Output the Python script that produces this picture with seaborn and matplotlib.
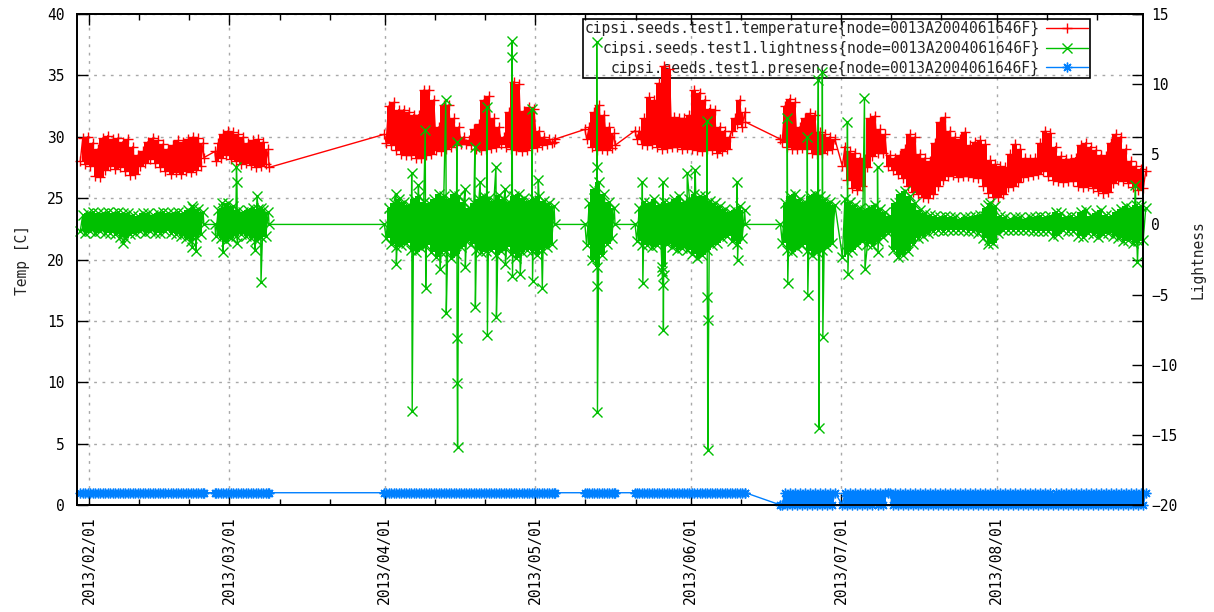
import numpy as np
import pandas as pd
import matplotlib
matplotlib.use("Agg")
import matplotlib.pyplot as plt
import matplotlib.dates as mdates
import seaborn as sns

sns.set_theme(style="white")
plt.rcParams["font.family"] = ["DejaVu Sans Mono", "DejaVu Sans"]
plt.rcParams["axes.unicode_minus"] = True

START = pd.Timestamp("2013-02-01")

# ---------------------------------------------------------------- data
# days (offset from 2013-02-01) that carry samples
day_offsets = (list(range(-2, 23)) + list(range(25, 36)) + list(range(59, 93))
               + list(range(99, 105)) + list(range(109, 131))
               + list(range(138, 149)) + list(range(150, 211)))

# temperature: daily low / high  [C]
temp_lo = [
    28.0, 27.8, 27.6, 26.8, 26.7, 27.3, 27.6, 27.4, 27.5, 27.2, 26.9, 27.0,
    27.6, 27.9, 28.2, 27.9, 27.5, 27.2, 27.0, 27.1, 27.0, 27.2, 27.1, 27.3, 27.6,
    28.0, 28.3, 28.5, 28.2, 28.0, 27.8, 27.9, 27.7, 27.5, 27.6, 27.8,
    29.5, 29.3, 28.9, 28.6, 28.5, 28.5, 28.3, 28.3, 28.5, 28.6, 28.9, 28.8, 29.0, 29.2, 29.3, 29.4, 29.4,
    29.3, 29.0, 28.9, 29.0, 29.1, 29.2, 29.4,
    29.2, 29.0, 28.9, 28.8, 28.9, 29.1, 29.2, 29.3, 29.4, 29.5,
    29.8, 29.2, 28.9, 29.0, 28.9, 29.1,
    29.8, 29.4, 29.3, 29.4, 29.2, 29.0, 29.1, 29.2, 29.2, 29.0, 29.1, 29.0, 28.9, 28.8, 29.0, 28.9, 28.7, 28.8, 29.0,
    30.5, 31.0, 30.8,
    29.6, 29.2, 29.0, 29.0, 29.1, 29.0, 28.7, 28.6, 28.7, 28.9, 29.0,
    27.6, 26.5, 25.8, 25.7, 26.0, 27.5, 28.4, 28.7, 28.7,
    27.6,
    27.3, 27.0, 26.6, 26.0, 25.5, 25.3, 25.1, 25.0, 25.3, 26.0,
    26.5, 26.8, 26.9, 26.7, 26.8, 26.8, 26.7, 26.6, 26.0, 25.4,
    25.1, 25.1, 25.3, 25.9, 26.0, 26.3, 26.7, 26.8, 26.9, 27.0,
    27.2, 26.8, 26.5, 26.4, 26.3, 26.4, 26.4, 26.0, 25.9, 26.0,
    25.8, 25.6, 25.4, 25.5, 26.2, 26.5, 26.4, 26.2, 25.9, 25.7, 25.8,
]
temp_hi = [
    29.9, 30.0, 29.5, 29.0, 29.9, 30.1, 29.8, 29.9, 29.6, 29.8, 29.2, 28.5,
    28.8, 29.6, 29.9, 29.7, 29.4, 29.0, 29.3, 29.7, 29.6, 29.8, 30.0, 29.9, 29.5,
    29.5, 30.2, 30.5, 30.4, 30.2, 30.0, 29.5, 29.7, 29.8, 29.6, 29.0,
    32.5, 32.8, 32.2, 32.2, 32.0, 31.8, 31.8, 33.8, 33.8, 33.0, 30.8, 32.6, 32.6, 31.5, 30.8, 30.0, 29.7,
    30.6, 31.0, 33.0, 33.3, 31.5, 30.8, 30.0,
    32.0, 34.5, 34.3, 32.1, 32.4, 32.3, 30.5, 30.0, 29.8, 29.6,
    30.8, 32.0, 32.6, 31.8, 30.8, 30.3,
    30.5, 31.5, 33.2, 33.0, 34.4, 35.8, 35.5, 31.6, 31.5, 31.5, 31.8, 33.8, 33.6, 33.0, 32.3, 32.2, 30.8, 30.5, 30.0,
    31.5, 33.0, 32.0,
    32.5, 33.1, 32.8, 30.8, 31.5, 31.9, 31.8, 30.4, 30.2, 30.0, 29.8,
    29.2, 28.8, 28.7, 28.3, 28.2, 31.5, 31.7, 30.6, 30.2,
    28.5,
    28.3, 28.5, 29.0, 30.2, 30.0, 28.6, 28.3, 28.0, 29.5, 31.2,
    31.6, 30.5, 30.0, 29.8, 30.4, 29.3, 29.6, 29.7, 29.4, 28.1,
    27.8, 27.6, 27.5, 28.6, 29.4, 29.0, 28.3, 28.2, 28.3, 29.5,
    30.5, 30.3, 29.2, 28.4, 28.2, 28.2, 28.3, 29.3, 29.5, 29.2,
    28.9, 28.5, 28.4, 29.5, 30.2, 30.0, 29.0, 28.0, 27.6, 27.4, 27.2,
]
temp_link_day = [22.9, 25.1, 35.9, 58.9, 92.9, 98.9, 104.9, 108.9, 130.9, 137.9]
temp_link_val = [28.3, 28.8, 27.5, 30.2, 29.8, 30.6, 29.3, 30.5, 31.2, 29.8]

# lightness: daily band low / high
light_lo = [
    -0.5, -0.6, -0.5, -0.6, -0.5, -0.6, -0.6, -0.7, -0.9, -1.0, -0.7, -0.6,
    -0.5, -0.6, -0.5, -0.6, -0.6, -0.5, -0.6, -0.7, -0.8, -1.0, -1.2, -0.9, -0.7,
    -0.8, -1.0, -1.2, -1.0, -0.8, -0.7, -0.8, -1.0, -1.1, -0.9, -0.8,
    -1.0, -1.4, -1.6, -1.5, -1.3, -1.8, -2.0, -1.7, -1.5, -2.0, -2.3, -2.0, -1.9, -2.4, -2.1, -1.6, -1.2,
    -1.4, -1.8, -2.0, -1.9, -1.8, -2.2, -1.9,
    -1.6, -2.1, -2.4, -2.0, -1.8, -1.9, -2.2, -1.8, -1.6, -1.4,
    -1.5, -2.5, -3.0, -2.2, -1.4, -1.0,
    -1.2, -1.5, -1.5, -1.6, -1.5, -3.0, -1.4, -1.6, -1.8, -1.7, -1.8, -2.1, -2.4, -2.2, -1.8, -1.5, -1.3, -1.0, -0.8,
    -1.2, -1.4, -1.0,
    -1.3, -1.8, -2.0, -1.7, -1.5, -1.9, -2.2, -2.0, -1.8, -1.6, -1.3,
    -2.3, -2.0, -1.8, -1.5, -1.2, -1.4, -1.5, -1.2, -0.9,
    -0.6,
    -1.8, -2.3, -2.2, -1.9, -1.4, -1.0, -0.8, -0.6, -0.5,
    -0.4, -0.5, -0.4, -0.4, -0.4, -0.4, -0.5, -0.5, -0.6, -1.0, -1.4,
    -1.3, -0.6, -0.4, -0.4, -0.4, -0.4, -0.4, -0.4, -0.5, -0.5,
    -0.5, -0.5, -0.8, -0.7, -0.4, -0.5, -0.5, -0.8, -0.9, -0.6,
    -0.7, -0.9, -0.7, -0.6, -0.8, -1.0, -1.2, -1.1, -1.3, -1.2, -1.1,
]
light_hi = [
    0.7, 0.8, 0.9, 0.8, 0.8, 0.9, 0.8, 0.9, 0.8, 0.8, 0.7, 0.6,
    0.8, 0.8, 0.7, 0.8, 0.9, 0.8, 0.8, 0.9, 0.8, 1.0, 1.2, 1.1, 0.9,
    1.0, 1.2, 1.5, 1.3, 1.0, 0.9, 1.0, 1.2, 1.1, 1.0, 0.9,
    1.2, 1.5, 1.8, 1.6, 1.4, 1.8, 2.0, 1.6, 1.5, 1.8, 2.2, 2.0, 1.8, 2.2, 2.0, 1.6, 1.2,
    1.5, 1.8, 2.0, 1.9, 1.7, 2.1, 1.8,
    1.6, 2.0, 2.2, 1.9, 1.7, 1.8, 2.0, 1.7, 1.5, 1.3,
    1.5, 2.5, 3.0, 2.2, 1.6, 1.2,
    1.2, 1.6, 1.5, 1.8, 1.4, 1.6, 1.5, 1.8, 2.0, 1.6, 1.8, 2.2, 2.0, 2.0, 1.7, 1.5, 1.3, 1.1, 0.9,
    1.0, 1.3, 1.0,
    1.5, 2.0, 2.2, 1.8, 1.6, 2.0, 2.2, 2.0, 1.8, 1.6, 1.4,
    1.8, 1.6, 1.4, 1.2, 1.0, 1.2, 1.4, 1.1, 0.9,
    0.6,
    1.5, 2.2, 2.4, 2.0, 1.5, 1.0, 0.8, 0.7, 0.6,
    0.5, 0.6, 0.5, 0.5, 0.4, 0.5, 0.5, 0.6, 0.7, 1.2, 1.5,
    1.3, 0.6, 0.5, 0.4, 0.5, 0.5, 0.4, 0.5, 0.5, 0.6,
    0.5, 0.6, 0.9, 0.8, 0.5, 0.6, 0.5, 0.9, 1.0, 0.6,
    0.8, 1.0, 0.7, 0.6, 0.9, 1.1, 1.3, 1.2, 1.4, 1.3, 1.2,
]
light_link_day = [22.9, 25.1, 35.9, 58.9, 92.9, 98.9, 104.9, 108.9, 130.9, 137.9]
light_link_val = [0.0, 0.0, 0.0, 0.0, 0.0, 0.0, 0.0, 0.0, 0.0, 0.0]
# isolated lightness excursions (day offset, value)
spike_day = [
    6.8, 20.5, 20.6, 21.2, 21.3, 26.6, 26.7, 27.7, 29.4, 29.5, 29.6, 33.1, 33.5, 34.2, 34.3,
    61.2, 61.3, 64.35, 64.45, 65.7, 67.05, 67.15, 70.0, 71.15, 71.25,
    73.35, 73.4, 73.45, 73.5, 75.0, 75.05, 76.95, 77.05, 78.0, 79.35, 79.45,
    81.15, 81.25, 83.0, 83.05, 84.35, 84.4, 84.45, 86.0, 88.35, 88.45, 89.6, 90.4,
    101.25, 101.3, 101.35, 101.4, 110.35, 110.45, 114.3, 114.4, 114.45, 114.55, 114.6,
    119.3, 120.9, 123.25, 123.3, 123.35, 123.4, 129.25, 129.35,
    139.25, 139.35, 143.25, 143.35, 145.45, 145.55, 146.25, 146.35,
    151.25, 151.35, 154.65, 154.75, 157.25, 157.35, 179.35, 179.45, 208.7, 209.1,
]
spike_val = [
    -1.3, 1.3, -1.6, 0.9, -1.9, 1.5, -2.0, 1.0, 4.1, 3.0, -1.3, -1.8, 2.0, 1.2, -4.1,
    2.2, -2.8, 3.7, -13.3, 2.8, 6.7, -4.5, -3.2, 8.9, -6.3,
    5.9, -8.1, -11.3, -15.9, 2.5, -3.0, 5.5, -5.9, 3.0, 8.4, -7.9,
    4.1, -6.6, 2.5, -2.8, 13.1, 11.9, -3.7, -3.5, 8.2, -4.0, 3.2, -4.5,
    13.0, 4.1, -4.4, -13.4, 3.0, -4.2, -3.3, -4.3, 3.0, -7.5, -3.6,
    3.7, 3.9, 7.4, -5.2, -6.8, -16.1, 3.0, -2.5,
    7.6, -4.2, 6.2, -5.0, 10.3, -14.5, 10.9, -8.0,
    7.3, -3.5, 9.0, -3.2, 4.1, -2.0, 1.4, -1.1, 2.8, -2.7,
]

# presence: daily low / high (0 / 1)
pres_lo = [
    1, 1, 1, 1, 1, 1, 1, 1, 1, 1, 1, 1, 1, 1, 1, 1, 1, 1, 1, 1, 1, 1, 1, 1, 1,
    1, 1, 1, 1, 1, 1, 1, 1, 1, 1, 1,
    1, 1, 1, 1, 1, 1, 1, 1, 1, 1, 1, 1, 1, 1, 1, 1, 1, 1, 1, 1, 1, 1, 1, 1, 1, 1, 1, 1, 1, 1, 1, 1, 1, 1,
    1, 1, 1, 1, 1, 1,
    1, 1, 1, 1, 1, 1, 1, 1, 1, 1, 1, 1, 1, 1, 1, 1, 1, 1, 1, 1, 1, 1,
    0, 0, 0, 0, 0, 0, 0, 0, 0, 0, 0,
    0, 0, 0, 0, 0, 0, 0, 0, 0,
    1,
    0, 0, 0, 0, 0, 0, 0, 0, 0, 0, 0, 0, 0, 0, 0, 0, 0, 0, 0, 0, 0, 0, 0, 0, 0,
    0, 0, 0, 0, 0, 0, 0, 0, 0, 0, 0, 0, 0, 0, 0, 0, 0, 0, 0, 0, 0, 0, 0, 0, 0, 0,
]
pres_hi = [
    1, 1, 1, 1, 1, 1, 1, 1, 1, 1, 1, 1, 1, 1, 1, 1, 1, 1, 1, 1, 1, 1, 1, 1, 1,
    1, 1, 1, 1, 1, 1, 1, 1, 1, 1, 1,
    1, 1, 1, 1, 1, 1, 1, 1, 1, 1, 1, 1, 1, 1, 1, 1, 1, 1, 1, 1, 1, 1, 1, 1, 1, 1, 1, 1, 1, 1, 1, 1, 1, 1,
    1, 1, 1, 1, 1, 1,
    1, 1, 1, 1, 1, 1, 1, 1, 1, 1, 1, 1, 1, 1, 1, 1, 1, 1, 1, 1, 1, 1,
    1, 1, 1, 1, 1, 1, 1, 1, 1, 1, 1,
    1, 1, 1, 1, 1, 1, 1, 1, 1,
    1,
    1, 1, 1, 1, 1, 1, 1, 1, 1, 1, 1, 1, 1, 1, 1, 1, 1, 1, 1, 1, 1, 1, 1, 1, 1,
    1, 1, 1, 1, 1, 1, 1, 1, 1, 1, 1, 1, 1, 1, 1, 1, 1, 1, 1, 1, 1, 1, 1, 1, 1, 1,
]
pres_link_day = [22.9, 25.1, 35.9, 58.9, 92.9, 98.9, 104.9, 108.9, 130.9, 137.9]
pres_link_val = [1, 1, 1, 1, 1, 1, 1, 1, 1, 0]

labels = [
    "cipsi.seeds.test1.temperature{node=0013A2004061646F}",
    "cipsi.seeds.test1.lightness{node=0013A2004061646F}",
    "cipsi.seeds.test1.presence{node=0013A2004061646F}",
]
RED, GREEN, BLUE = "#ff0000", "#00c000", "#0080ff"


# ---------------------------------------------------------------- helpers
def to_time(d):
    return START + pd.to_timedelta(np.asarray(d, float), unit="D")


def build_series(days, lo, hi, link_d, link_v, extra_d=(), extra_v=()):
    t = ([d + 0.25 for d in days] + [d + 0.75 for d in days]
         + list(link_d) + list(extra_d))
    v = list(lo) + list(hi) + list(link_v) + list(extra_v)
    t = np.asarray(t, float)
    v = np.asarray(v, float)
    order = np.argsort(t, kind="stable")
    return to_time(t[order]), v[order]


def fill_band(ax, days, lo, hi, color, z):
    d = np.asarray(days, float)
    lo = np.asarray(lo, float)
    hi = np.asarray(hi, float)
    breaks = np.where(np.diff(d) > 1)[0] + 1
    for idx in np.split(np.arange(len(d)), breaks):
        ax.fill_between(to_time(d[idx] + 0.5), lo[idx], hi[idx], step="mid",
                        color=color, lw=0, zorder=z)


# ---------------------------------------------------------------- figure
fig = plt.figure(figsize=(12.14, 6.12), dpi=100)
ax = fig.add_axes([77 / 1214, 1 - 505 / 612, (1143 - 77) / 1214, (505 - 14) / 612])
ax2 = ax.twinx()

# temperature
fill_band(ax, day_offsets, temp_lo, temp_hi, RED, 2)
tx, tv = build_series(day_offsets, temp_lo, temp_hi, temp_link_day, temp_link_val)
sns.lineplot(x=tx, y=tv, ax=ax, color=RED, lw=1, marker="+", markersize=7,
             markeredgewidth=1, markeredgecolor=RED, estimator=None, sort=False,
             legend=False, clip_on=False, zorder=2)
h_temp = ax.lines[-1]

# presence
fill_band(ax, day_offsets, pres_lo, pres_hi, BLUE, 3)
px, pv = build_series(day_offsets, pres_lo, pres_hi, pres_link_day, pres_link_val)
sns.lineplot(x=px, y=pv, ax=ax, color=BLUE, lw=1, marker=(8, 2, 0), markersize=7,
             markeredgewidth=1, markeredgecolor=BLUE, estimator=None, sort=False,
             legend=False, clip_on=False, zorder=3)
h_pres = ax.lines[-1]

# lightness (right axis)
fill_band(ax2, day_offsets, light_lo, light_hi, GREEN, 2)
lx, lv = build_series(day_offsets, light_lo, light_hi, light_link_day, light_link_val,
                      spike_day, spike_val)
sns.lineplot(x=lx, y=lv, ax=ax2, color=GREEN, lw=1, marker="x", markersize=6.5,
             markeredgewidth=1, markeredgecolor=GREEN, estimator=None, sort=False,
             legend=False, clip_on=False, zorder=2)
h_light = ax2.lines[-1]

# ---------------------------------------------------------------- axes
ax.set_xlim(START - pd.Timedelta(days=2.4), START + pd.Timedelta(days=210.2))
ax.set_ylim(0, 40)
ax2.set_ylim(-20, 15)
ax.set_yticks(np.arange(0, 41, 5))
ax2.set_yticks(np.arange(-20, 16, 5))
ax.xaxis.set_major_locator(mdates.MonthLocator())
ax.xaxis.set_minor_locator(mdates.DayLocator(bymonthday=[11, 21]))
ax.xaxis.set_major_formatter(mdates.DateFormatter("%Y/%m/%d"))

ax.grid(True, which="major", axis="both", color="#a8a8a8",
        linestyle=(0, (2, 4)), lw=1)
ax.set_axisbelow(True)
ax2.grid(False)

FS = 10.5
ax.tick_params(axis="x", which="major", direction="in", length=8, width=1,
               top=True, bottom=True, pad=8, labelsize=FS, labelrotation=90,
               colors="black")
ax.tick_params(axis="x", which="minor", direction="in", length=4, width=1,
               top=True, bottom=True, colors="black")
ax.tick_params(axis="y", which="major", direction="in", length=8, width=1,
               left=True, right=True, pad=9, labelsize=FS, colors="black")
ax2.tick_params(axis="y", which="major", direction="in", length=8, width=1,
                right=True, left=False, pad=6, labelsize=FS, colors="black")
for a in (ax, ax2):
    for s in a.spines.values():
        s.set_color("black")
        s.set_linewidth(1.3)
ax.set_xlabel("")
ax.set_ylabel("")
ax2.set_ylabel("")

fig.text(22 / 1214, 1 - 260 / 612, "Temp [C]", rotation=90, ha="center",
         va="center", fontsize=FS)
fig.text(1198 / 1214, 1 - 260 / 612, "Lightness", rotation=90, ha="center",
         va="center", fontsize=FS)

leg = ax.legend([h_temp, h_light, h_pres], labels, loc="upper right",
                bbox_to_anchor=(1090 / 1214, 1 - 19 / 612),
                bbox_transform=fig.transFigure, markerfirst=False, numpoints=1,
                fontsize=10.5, frameon=True, fancybox=False,
                handlelength=2.9, handletextpad=0.4,
                labelspacing=0.3, borderpad=0.15, borderaxespad=0)
frame = leg.get_frame()
frame.set_facecolor("none")
frame.set_edgecolor("black")
frame.set_alpha(None)
frame.set_linewidth(1.2)
leg.set_zorder(1)

fig.savefig("out.png", dpi=100)
